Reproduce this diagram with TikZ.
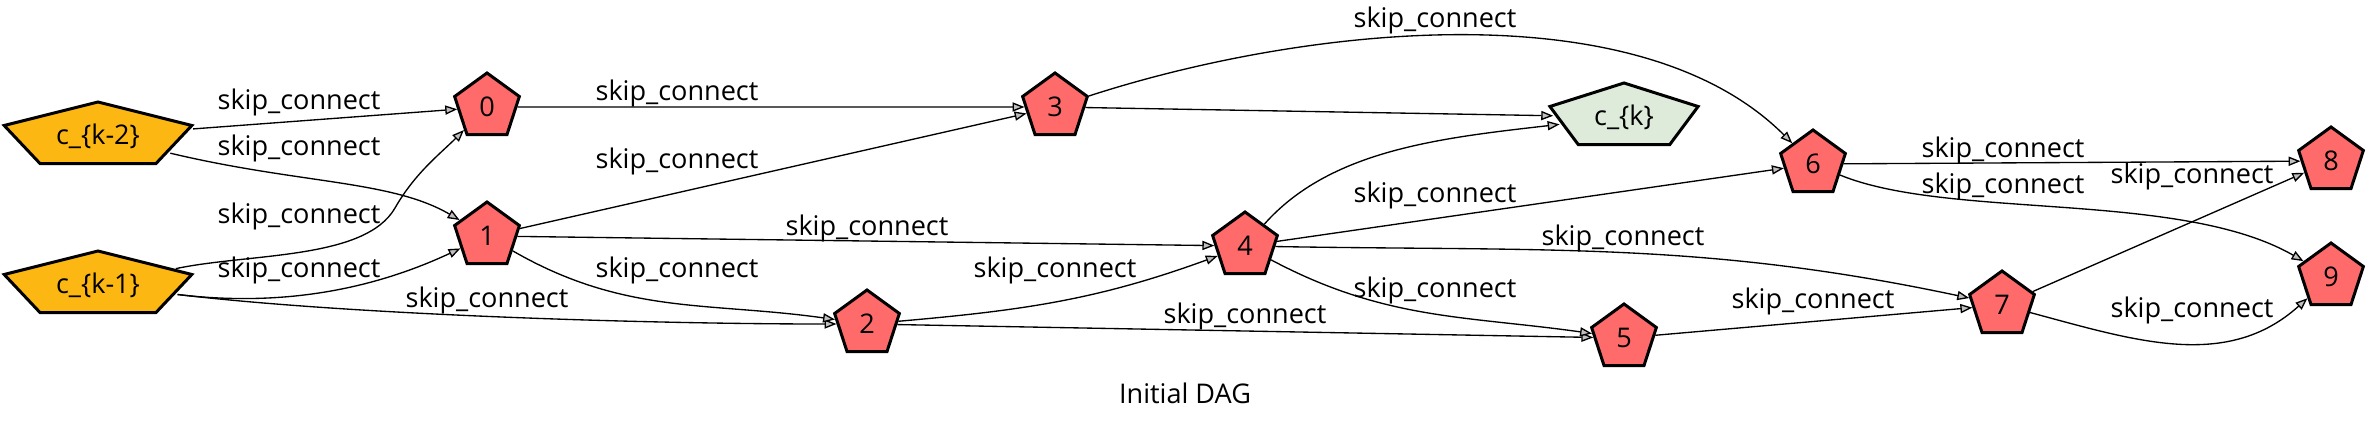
\documentclass[tikz,border=0pt]{standalone}
\usepackage{fontspec}
\setmainfont{Open Sans}
\usepackage{tikz}
\usetikzlibrary{arrows.meta,shapes.geometric,positioning}
\definecolor{rojo}{RGB}{255,107,107}
\definecolor{naranja}{RGB}{253,183,19}
\definecolor{verde}{RGB}{223,235,218}
\tikzset{
    nodo/.style={regular polygon,regular polygon sides=5,draw,line width=0.85pt,inner sep=0pt,minimum size=0.68cm},
    oper/.style={nodo,fill=rojo},
    entrada/.style={nodo,fill=naranja,transform shape},
    salida/.style={nodo,fill=verde,transform shape},
    texto/.style={draw=none,fill=none,inner sep=0pt},
    flecha/.style={draw,line width=0.38pt,->,>={Triangle[length=3.4pt,width=2.6pt,fill=black!25]}},
}

\begin{document}
\begin{tikzpicture}[
    x=0.01cm,y=0.01cm,
    every node/.style={node font=\fontsize{7.7pt}{9pt}\selectfont},
]
    \useasboundingbox (0,0) rectangle (2369,420);
    \begin{scope}[shift={(98,284)},xscale=2.9]
        \node [entrada] (ck2) {};
    \end{scope}
    \begin{scope}[shift={(98,135)},xscale=2.9]
        \node [entrada] (ck1) {};
    \end{scope}
    \begin{scope}[shift={(1624,303)},xscale=2.29]
        \node [salida] (ck) {};
    \end{scope}
    \node [texto] (tck2) at (ck2) {c\_\{k-2\}};
    \node [texto] (tck1) at (ck1) {c\_\{k-1\}};
    \node [texto] (tck) at (ck) {c\_\{k\}};
    \node [oper] (n0) at (487,313) {0};
    \node [oper] (n1) at (487,184) {1};
    \node [oper] (n2) at (867,96) {2};
    \node [oper] (n3) at (1055,313) {3};
    \node [oper] (n4) at (1245,174) {4};
    \node [oper] (n5) at (1624,82) {5};
    \node [oper] (n6) at (1813,256) {6};
    \node [oper] (n7) at (2002,115) {7};
    \node [oper] (n8) at (2331,259) {8};
    \node [oper] (n9) at (2331,143) {9};
    \path [flecha] (ck2) -- (n0) node [texto] at (299,318) {skip\_connect};
    \path [flecha] (ck2) .. controls (300,236) and (391,240) .. (n1) node [texto] at (299,272) {skip\_connect};
    \path [flecha] (ck1) .. controls (250,167) and (365,160) .. (395,212) .. controls (415,247) and (440,266) .. (n0) node [texto] at (299,204) {skip\_connect};
    \path [flecha] (ck1) .. controls (290,112) and (380,134) .. (n1) node [texto] at (299,150) {skip\_connect};
    \path [flecha] (ck1) .. controls (350,105) and (650,96) .. (n2) node [texto] at (487,120) {skip\_connect};
    \path [flecha] (n0) -- (n3) node [texto] at (677,327) {skip\_connect};
    \path [flecha] (n1) -- (n3) node [texto] at (677,259) {skip\_connect};
    \path [flecha] (n1) -- (n4) node [texto] at (867,192) {skip\_connect};
    \path [flecha] (n1) to [out=-30,in=172] (n2) node [texto] at (677,150) {skip\_connect};
    \path [flecha] (n2) to [out=5,in=200] (n4) node [texto] at (1055,150) {skip\_connect};
    \path [flecha] (n2) -- (n5) node [texto] at (1245,104) {skip\_connect};
    \path [flecha] (n3) -- (ck);
    \path [flecha] (n4) .. controls (1330,270) and (1440,282) .. (ck);
    \path [flecha] (n3) to [out=18,in=135,looseness=0.8] (n6) node [texto] at (1435,400) {skip\_connect};
    \path [flecha] (n4) -- (n6) node [texto] at (1435,225) {skip\_connect};
    \path [flecha] (n4) to [out=-1,in=168] (n7) node [texto] at (1623,182) {skip\_connect};
    \path [flecha] (n4) to [out=-28,in=172] (n5) node [texto] at (1435,130) {skip\_connect};
    \path [flecha] (n5) -- (n7) node [texto] at (1813,119) {skip\_connect};
    \path [flecha] (n6) -- (n8) node [texto] at (2003,270) {skip\_connect};
    \path [flecha] (n6) .. controls (1950,200) and (2180,230) .. (n9) node [texto] at (2003,234) {skip\_connect};
    \path [flecha] (n7) -- (n8) node [texto] at (2192,244) {skip\_connect};
    \path [flecha] (n7) to [out=-15,in=222] (n9) node [texto] at (2192,110) {skip\_connect};
    \node (titulo) at (1185,27) {Initial DAG};
\end{tikzpicture}
\end{document}
